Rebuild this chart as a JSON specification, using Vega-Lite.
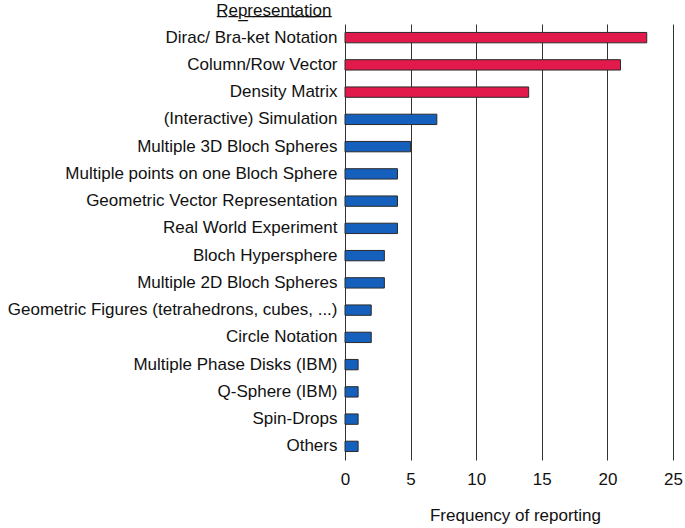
{
  "$schema": "https://vega.github.io/schema/vega-lite/v6.json",
  "autosize": "none",
  "padding": {"left": 345, "top": 24, "right": 12, "bottom": 68},
  "width": 328,
  "height": 436,
  "background": "white",
  "config": {
    "font": "Liberation Sans",
    "view": {"stroke": null}
  },
  "data": {
    "values": [
      {"rep": "Dirac/ Bra-ket Notation", "freq": 23, "group": "a"},
      {"rep": "Column/Row Vector", "freq": 21, "group": "a"},
      {"rep": "Density Matrix", "freq": 14, "group": "a"},
      {"rep": "(Interactive) Simulation", "freq": 7, "group": "b"},
      {"rep": "Multiple 3D Bloch Spheres", "freq": 5, "group": "b"},
      {"rep": "Multiple points on one Bloch Sphere", "freq": 4, "group": "b"},
      {"rep": "Geometric Vector Representation", "freq": 4, "group": "b"},
      {"rep": "Real World Experiment", "freq": 4, "group": "b"},
      {"rep": "Bloch Hypersphere", "freq": 3, "group": "b"},
      {"rep": "Multiple 2D Bloch Spheres", "freq": 3, "group": "b"},
      {"rep": "Geometric Figures (tetrahedrons, cubes, ...)", "freq": 2, "group": "b"},
      {"rep": "Circle Notation", "freq": 2, "group": "b"},
      {"rep": "Multiple Phase Disks (IBM)", "freq": 1, "group": "b"},
      {"rep": "Q-Sphere (IBM)", "freq": 1, "group": "b"},
      {"rep": "Spin-Drops", "freq": 1, "group": "b"},
      {"rep": "Others", "freq": 1, "group": "b"}
    ]
  },
  "mark": {"type": "bar", "stroke": "#2a2a2a", "strokeWidth": 1},
  "encoding": {
    "y": {
      "field": "rep",
      "type": "nominal",
      "sort": null,
      "scale": {"paddingInner": 0.62, "paddingOuter": 0.31},
      "axis": {
        "title": "R̲e̲p̲r̲e̲s̲e̲n̲t̲a̲t̲i̲o̲n̲",
        "titleAngle": 0,
        "titleAlign": "right",
        "titleBaseline": "bottom",
        "titleX": -14,
        "titleY": -5,
        "titleFontSize": 17,
        "titleFontWeight": "normal",
        "titleColor": "#111",
        "domain": false,
        "ticks": false,
        "labelPadding": 8,
        "labelFontSize": 17,
        "labelColor": "#111",
        "labelLimit": 400
      }
    },
    "x": {
      "field": "freq",
      "type": "quantitative",
      "scale": {"domain": [0, 25]},
      "axis": {
        "title": "Frequency of reporting",
        "values": [0, 5, 10, 15, 20, 25],
        "grid": true,
        "gridColor": "#333",
        "gridWidth": 1,
        "gridOpacity": 1,
        "domain": false,
        "ticks": false,
        "labelFlush": false,
        "labelPadding": 11,
        "labelFontSize": 17,
        "labelColor": "#111",
        "titleFontSize": 17,
        "titleFontWeight": "normal",
        "titleColor": "#111",
        "titlePadding": 20,
        "titleX": 170
      }
    },
    "color": {
      "field": "group",
      "type": "nominal",
      "scale": {"domain": ["a", "b"], "range": ["#E2194B", "#1560BD"]},
      "legend": null
    }
  }
}
